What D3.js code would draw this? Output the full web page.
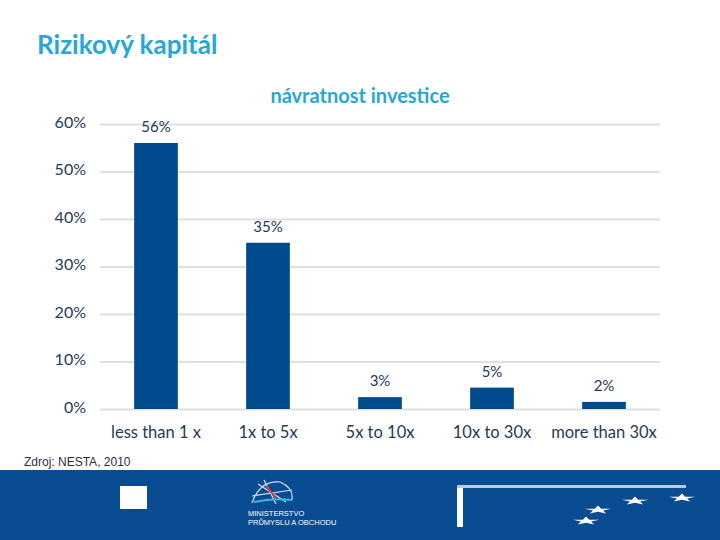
<!DOCTYPE html>
<html>
<head>
<meta charset="utf-8">
<script src="https://cdn.jsdelivr.net/npm/d3@7"></script>
<style>
  body { margin: 0; background: #fff; }
  svg { display: block; }
</style>
</head>
<body>
<svg width="720" height="540"></svg>
<script>
// chart data
const categories = ['less than 1 x', '1x to 5x', '5x to 10x', '10x to 30x', 'more than 30x'];
const values = [56, 35, 2.5, 4.5, 1.5];
const valueLabels = ['56%', '35%', '3%', '5%', '2%'];
const yTicks = [0, 10, 20, 30, 40, 50, 60];

const svg = d3.select('svg');
const font = 'Lato, "Open Sans", sans-serif';
const navy = '#1f3a5c';
const barColor = '#004b8d';

// slide title
svg.append('text').attr('x', 37).attr('y', 54)
  .attr('font-family', font).attr('font-weight', 'bold').attr('font-size', 26)
  .attr('fill', '#27a7d8').text('Rizikový kapitál');

svg.append('text').attr('x', 360).attr('y', 103).attr('text-anchor', 'middle')
  .attr('font-family', font).attr('font-weight', 'bold').attr('font-size', 20)
  .attr('fill', '#27a7d8').text('návratnost investice');

// scales
const x = d3.scaleBand().domain(categories).range([100, 660]).paddingInner(0.61).paddingOuter(0.305);
const y = d3.scaleLinear().domain([0, 60]).range([409, 124]);

// grid + y labels
const yAxis = svg.append('g').attr('transform', 'translate(100,0)')
  .call(d3.axisLeft(y).tickValues(yTicks).tickSize(-560).tickFormat(d => d + '%'));
yAxis.select('.domain').remove();
yAxis.selectAll('.tick line').attr('stroke', '#dde1e4').attr('stroke-width', 2);
yAxis.selectAll('.tick text').attr('x', -14).attr('dy', '0.2em')
  .attr('font-family', font).attr('font-size', 16).attr('fill', navy);

// bars
svg.append('g').selectAll('rect').data(values).join('rect')
  .attr('x', (d, i) => x(categories[i]))
  .attr('y', d => y(d))
  .attr('width', x.bandwidth())
  .attr('height', d => y(0) - y(d))
  .attr('fill', barColor);

// value labels
svg.append('g').selectAll('text').data(values).join('text')
  .attr('x', (d, i) => x(categories[i]) + x.bandwidth() / 2)
  .attr('y', d => y(d) - 11)
  .attr('text-anchor', 'middle')
  .attr('font-family', font).attr('font-size', 15).attr('fill', navy)
  .text((d, i) => valueLabels[i]);

// x labels
const xAxis = svg.append('g').attr('transform', 'translate(0,409)')
  .call(d3.axisBottom(x).tickSize(0));
xAxis.select('.domain').remove();
xAxis.selectAll('.tick text').attr('dy', '1.6em')
  .attr('font-family', font).attr('font-size', 16.5).attr('fill', navy);

// source note
svg.append('text').attr('x', 24).attr('y', 466)
  .attr('font-family', '"Liberation Sans", Arial, sans-serif').attr('font-size', 12)
  .attr('fill', '#1f2f45').text('Zdroj: NESTA, 2010');

// footer band
const footer = svg.append('g');
footer.append('rect').attr('x', 0).attr('y', 470).attr('width', 720).attr('height', 70).attr('fill', '#0a4c92');
footer.append('rect').attr('x', 120).attr('y', 486).attr('width', 27).attr('height', 23).attr('fill', '#fff');

// ministry logo (rough)
const logo = footer.append('g').attr('stroke-width', 1.2).attr('fill', 'none');
logo.append('path').attr('d', 'M252,503 Q260,480 280,482 Q294,488 292,500').attr('stroke', '#cfe4f5');
logo.append('path').attr('d', 'M258,484 L286,502 M264,480 L276,504 M252,496 L292,490').attr('stroke', '#cfe4f5');
logo.append('path').attr('d', 'M266,486 L276,498').attr('stroke', '#d23a4a').attr('stroke-width', 2);
logo.append('path').attr('d', 'M254,502 Q272,498 292,500').attr('stroke', '#3fb3e6').attr('stroke-width', 2);
footer.append('text').attr('x', 248).attr('y', 516)
  .attr('font-family', '"Liberation Sans", Arial, sans-serif').attr('font-size', 7.5)
  .attr('fill', '#fff').text('MINISTERSTVO');
footer.append('text').attr('x', 248).attr('y', 525)
  .attr('font-family', '"Liberation Sans", Arial, sans-serif').attr('font-size', 7.5)
  .attr('fill', '#fff').text('PRŮMYSLU A OBCHODU');

// EU flag frame with stars
footer.append('rect').attr('x', 457).attr('y', 486).attr('width', 6).attr('height', 41).attr('fill', '#fff');
footer.append('rect').attr('x', 457).attr('y', 485).attr('width', 229).attr('height', 3).attr('fill', '#b5cce6');
const star = d3.symbol().type(d3.symbolStar).size(45);
[[586, 521], [598, 510], [635, 501], [682, 498]].forEach(function(p) {
  footer.append('path').attr('d', star)
    .attr('transform', 'translate(' + p[0] + ',' + p[1] + ') scale(2.2,0.7)')
    .attr('fill', '#fff');
});
</script>
</body>
</html>
